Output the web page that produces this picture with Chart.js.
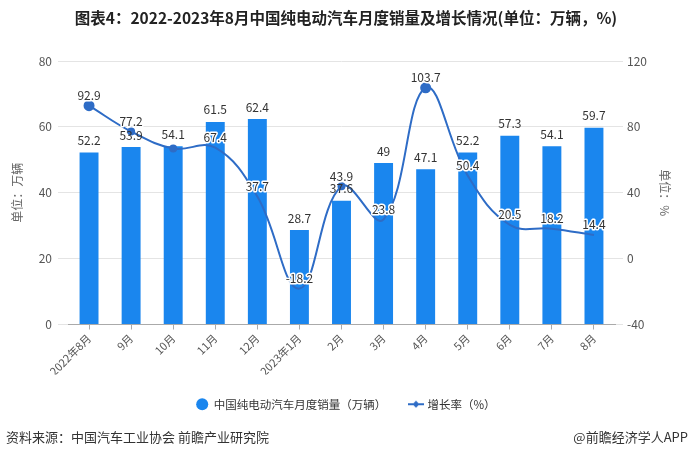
<!DOCTYPE html>
<html><head><meta charset="utf-8">
<script src="https://cdn.jsdelivr.net/npm/chart.js@4/dist/chart.umd.min.js"></script>
<style>html,body{margin:0;padding:0;background:#fff}#wrap{width:692px;height:456px;position:relative}</style>
</head><body><div id="wrap"><canvas id="c" width="692" height="456" style="width:692px;height:456px"></canvas></div>
<script>
const categories = ['2022年8月','9月','10月','11月','12月','2023年1月','2月','3月','4月','5月','6月','7月','8月'];
const salesValues = [52.2,53.9,54.1,61.5,62.4,28.7,37.6,49,47.1,52.2,57.3,54.1,59.7];
const growthValues = [92.9,77.2,66.9,67.4,37.7,-18.2,43.9,23.8,103.7,50.4,20.5,18.2,14.4];
const leftTicks = [0,20,40,60,80];
const rightTicks = [-40,0,40,80,120];
const salesLabel = '中国纯电动汽车月度销量（万辆）';
const growthLabel = '增长率（%）';
const titleText = '图表4：2022-2023年8月中国纯电动汽车月度销量及增长情况(单位：万辆，%)';
const sourceText = '资料来源：中国汽车工业协会 前瞻产业研究院';
const creditText = '@前瞻经济学人APP';
const leftAxisTitle = '单位：万辆';
const rightAxisTitle = '单位：%';

const FONT = '"Noto Sans CJK SC", "Noto Sans", sans-serif';
const barColor = '#1A86EE';
const lineColor = '#2E6CC6';
const gridColor = '#E4E4E4';

Chart.defaults.font.family = FONT;
Chart.defaults.color = '#666';

// legend icon for the line series
const lineIcon = document.createElement('canvas');
lineIcon.width = 16; lineIcon.height = 8;
(function(){
  const g = lineIcon.getContext('2d');
  g.strokeStyle = lineColor; g.lineWidth = 2;
  g.beginPath(); g.moveTo(0,4); g.lineTo(16,4); g.stroke();
  g.fillStyle = lineColor;
  g.beginPath(); g.moveTo(8,0.5); g.lineTo(11.5,4); g.lineTo(8,7.5); g.lineTo(4.5,4); g.closePath(); g.fill();
})();

const decoPlugin = {
  id: 'deco',
  afterDatasetsDraw(chart){
    const ctx = chart.ctx;
    ctx.save();
    ctx.textAlign = 'center';
    ctx.textBaseline = 'middle';
    ctx.font = '12px ' + FONT;
    const bm = chart.getDatasetMeta(0);
    bm.data.forEach((el,i)=>{
      ctx.fillStyle = '#333';
      ctx.fillText(String(salesValues[i]), el.x, el.y - 12);
    });
    const lm = chart.getDatasetMeta(1);
    lm.data.forEach((el,i)=>{
      if (i === 2) return;
      const t = String(growthValues[i]);
      ctx.lineWidth = 3; ctx.lineJoin = 'round'; ctx.strokeStyle = '#fff';
      ctx.strokeText(t, el.x, el.y - 10);
      ctx.fillStyle = '#333';
      ctx.fillText(t, el.x, el.y - 10);
    });
    ctx.restore();
  },
  afterDraw(chart){
    const ctx = chart.ctx;
    ctx.save();
    ctx.fillStyle = '#222';
    ctx.textBaseline = 'middle';
    ctx.textAlign = 'center';
    ctx.font = 'bold 15.5px ' + FONT;
    ctx.fillText(titleText, 346, 18);
    ctx.fillStyle = '#333';
    ctx.font = '13px ' + FONT;
    ctx.textAlign = 'left';
    ctx.fillText(sourceText, 6, 437);
    ctx.textAlign = 'right';
    ctx.fillText(creditText, 688, 437);
    ctx.restore();
  }
};

new Chart(document.getElementById('c'), {
  data: {
    labels: categories,
    datasets: [
      {
        type: 'bar', label: salesLabel, data: salesValues, yAxisID: 'y',
        backgroundColor: barColor, barPercentage: 0.45, categoryPercentage: 1, order: 2
      },
      {
        type: 'line', label: growthLabel, data: growthValues, yAxisID: 'y1',
        borderColor: lineColor, backgroundColor: lineColor, borderWidth: 2, tension: 0.4,
        pointBackgroundColor: lineColor, pointBorderColor: lineColor,
        pointRadius: c => (c.dataIndex === 0 || c.dataIndex === 8) ? 4.5 : ((c.dataIndex === 1 || c.dataIndex === 2 || c.dataIndex === 6) ? 3 : 0),
        order: 1
      }
    ]
  },
  options: {
    responsive: false,
    animation: false,
    devicePixelRatio: 1,
    layout: { padding: { top: 61, left: 0, right: 0, bottom: 36 } },
    plugins: {
      tooltip: { enabled: false },
      title: { display: false },
      legend: {
        position: 'bottom',
        labels: {
          usePointStyle: true, boxWidth: 12, boxHeight: 8.5, padding: 24, color: '#333',
          font: { size: 11.5, family: FONT },
          generateLabels(chart){
            const items = Chart.defaults.plugins.legend.labels.generateLabels(chart);
            items.sort((a,b)=>a.datasetIndex-b.datasetIndex);
            items.forEach(it=>{
              if (it.datasetIndex === 1) { it.pointStyle = lineIcon; }
              else { it.pointStyle = 'circle'; it.fillStyle = barColor; it.strokeStyle = barColor; it.lineWidth = 0; }
            });
            return items;
          }
        }
      }
    },
    scales: {
      x: {
        type: 'category',
        grid: { display: true, drawOnChartArea: false, drawTicks: true, tickLength: 5, offset: false, color: '#AAA' },
        border: { display: true, color: '#AAA', width: 1 },
        ticks: { maxRotation: 45, minRotation: 45, autoSkip: false, color: '#555', font: { size: 11 }, padding: 2 },
        afterFit: s => { s.height = 50; }
      },
      y: {
        position: 'left', min: 0, max: 80,
        afterBuildTicks: s => { s.ticks = leftTicks.map(v => ({ value: v })); },
        grid: { color: gridColor, tickColor: gridColor, tickLength: 10, drawTicks: true },
        border: { display: false },
        ticks: { color: '#555', font: { size: 12 }, padding: 6 },
        title: { display: true, text: leftAxisTitle, color: '#666', font: { size: 12 }, padding: { top: 10, bottom: 0 } },
        afterFit: s => { s.width = 68; }
      },
      y1: {
        position: 'right', min: -40, max: 120,
        afterBuildTicks: s => { s.ticks = rightTicks.map(v => ({ value: v })); },
        grid: { drawOnChartArea: false, tickColor: gridColor, tickLength: 8, drawTicks: true },
        border: { display: false },
        ticks: { color: '#555', font: { size: 12 }, padding: 4 },
        title: { display: true, text: rightAxisTitle, color: '#666', font: { size: 12 }, padding: { top: 20, bottom: 0 } },
        afterFit: s => { s.width = 77; }
      }
    }
  },
  plugins: [decoPlugin]
});
</script>
</body></html>
